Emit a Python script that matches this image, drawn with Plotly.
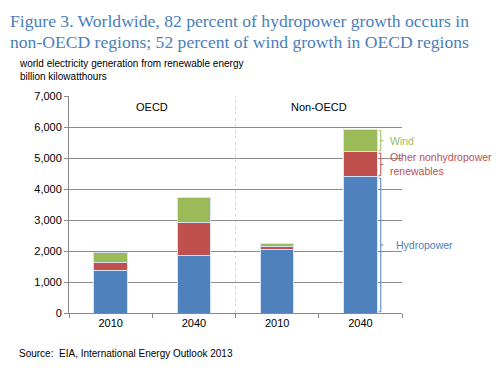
import plotly.graph_objects as go

groups = ["OECD", "OECD", "Non-OECD", "Non-OECD"]
years = ["2010", "2040", "2010", "2040"]
hydro = [1360, 1850, 2060, 4390]
other = [260, 1080, 90, 805]
wind = [330, 810, 95, 730]
y_ticks = [0, 1000, 2000, 3000, 4000, 5000, 6000, 7000]

C_HYDRO = "#4F81BD"
C_OTHER = "#C0504D"
C_WIND = "#9BBB59"
FONT = "Liberation Sans, Arial, sans-serif"

L, R, T, B = 69, 101, 96, 63
PW, PH = 503 - L - R, 376 - T - B

xpos = list(range(len(years)))
fig = go.Figure()
for name, vals, col in [("Hydropower", hydro, C_HYDRO),
                        ("Other nonhydropower renewables", other, C_OTHER),
                        ("Wind", wind, C_WIND)]:
    fig.add_trace(go.Bar(x=xpos, y=vals, name=name, marker=dict(color=col, line=dict(color="#D6E3F3", width=1)),
                         width=0.4, showlegend=False, hoverinfo="y"))

fig.add_trace(go.Scatter(x=[-0.5, 3.5], y=[0, 0], xaxis="x2", mode="markers",
                         marker=dict(opacity=0), showlegend=False, hoverinfo="skip"))

fig.update_layout(
    barmode="stack",
    width=503, height=376,
    margin=dict(l=L, r=R, t=T, b=B, autoexpand=False),
    paper_bgcolor="white", plot_bgcolor="white",
    font=dict(family=FONT, size=11, color="#000"),
    showlegend=False,
    xaxis=dict(range=[-0.5, 3.5], tickvals=xpos, ticktext=years, ticks="", automargin=False,
               showgrid=False, zeroline=False, showline=True, linecolor="#888", linewidth=1,
               tickfont=dict(size=11, family=FONT, color="#000"), fixedrange=True),
    xaxis2=dict(range=[-0.5, 3.5], overlaying="x", tickvals=[-0.5, 0.5, 1.5, 2.5, 3.5],
                ticks="outside", ticklen=4, tickcolor="#888", showticklabels=False, automargin=False,
                showgrid=False, zeroline=False, side="bottom", anchor="y", fixedrange=True),
    yaxis=dict(range=[0, 7000], tickvals=y_ticks, tickformat=",", ticks="outside", ticklen=4,
               tickcolor="#888", showline=True, linecolor="#888", linewidth=1, automargin=False,
               showgrid=True, gridcolor="#8C8C8C", gridwidth=1, zeroline=False,
               tickfont=dict(size=11, family=FONT, color="#000"), fixedrange=True),
)

fig.add_shape(type="line", xref="x", yref="y", x0=1.5, x1=1.5, y0=0, y1=7000,
              line=dict(color="#D8D8D8", width=1, dash="dot"), layer="below")

for gx, g in [(0.5, groups[0]), (2.5, groups[2])]:
    fig.add_annotation(x=gx, y=7000, xref="x", yref="y", text=g, showarrow=False,
                       yanchor="top", yshift=-3, font=dict(size=11, family=FONT, color="#000"))

i = 3
bx = 3.245
segs = [
    (0, hydro[i], C_HYDRO, "Hydropower", 13),
    (hydro[i], hydro[i] + other[i], C_OTHER, "Other nonhydropower<br>renewables", 7),
    (hydro[i] + other[i], hydro[i] + other[i] + wind[i], C_WIND, "Wind", 7),
]
for y0, y1, col, lab, xs in segs:
    pad = 40
    fig.add_shape(type="line", xref="x", yref="y", x0=bx, x1=bx, y0=y0 + pad, y1=y1 - pad,
                  line=dict(color=col, width=1))
    for yy in (y0 + pad, y1 - pad):
        fig.add_shape(type="line", xref="x", yref="y", x0=bx - 0.025, x1=bx, y0=yy, y1=yy,
                      line=dict(color=col, width=1))
    ym = (y0 + y1) / 2
    fig.add_shape(type="line", xref="x", yref="y", x0=bx, x1=bx + 0.03, y0=ym, y1=ym,
                  line=dict(color=col, width=1))
    fig.add_annotation(x=bx, y=ym, xref="x", yref="y", text=lab, showarrow=False,
                       xanchor="left", xshift=xs, align="left",
                       font=dict(size=10.5, family=FONT, color=col))

def px(x):
    return (x - L) / PW

def py(y):
    return 1 - (y - T) / PH

title_lines = ["Figure 3. Worldwide, 82 percent of hydropower growth occurs in",
               "non-OECD regions; 52 percent of wind growth in OECD regions"]
for yy, line in zip([21.0, 42.4], title_lines):
    fig.add_annotation(xref="paper", yref="paper", x=px(8), y=py(yy), xanchor="left", yanchor="middle",
                       text=line, showarrow=False, align="left",
                       font=dict(family="Liberation Serif, Times New Roman, serif", size=17.6, color="#4A7EBB"))
fig.add_annotation(xref="paper", yref="paper", x=px(17), y=py(56), xanchor="left", yanchor="top",
                   text="world electricity generation from renewable energy<br>billion kilowatthours",
                   showarrow=False, align="left", font=dict(size=10, family=FONT, color="#000"))
fig.add_annotation(xref="paper", yref="paper", x=px(17), y=py(346), xanchor="left", yanchor="top",
                   text="Source:  EIA, International Energy Outlook 2013",
                   showarrow=False, align="left", font=dict(size=10, family=FONT, color="#000"))

fig.write_html("out.html", config={"displayModeBar": False},
               post_script="document.body.style.margin='0';document.body.style.overflow='hidden';")
